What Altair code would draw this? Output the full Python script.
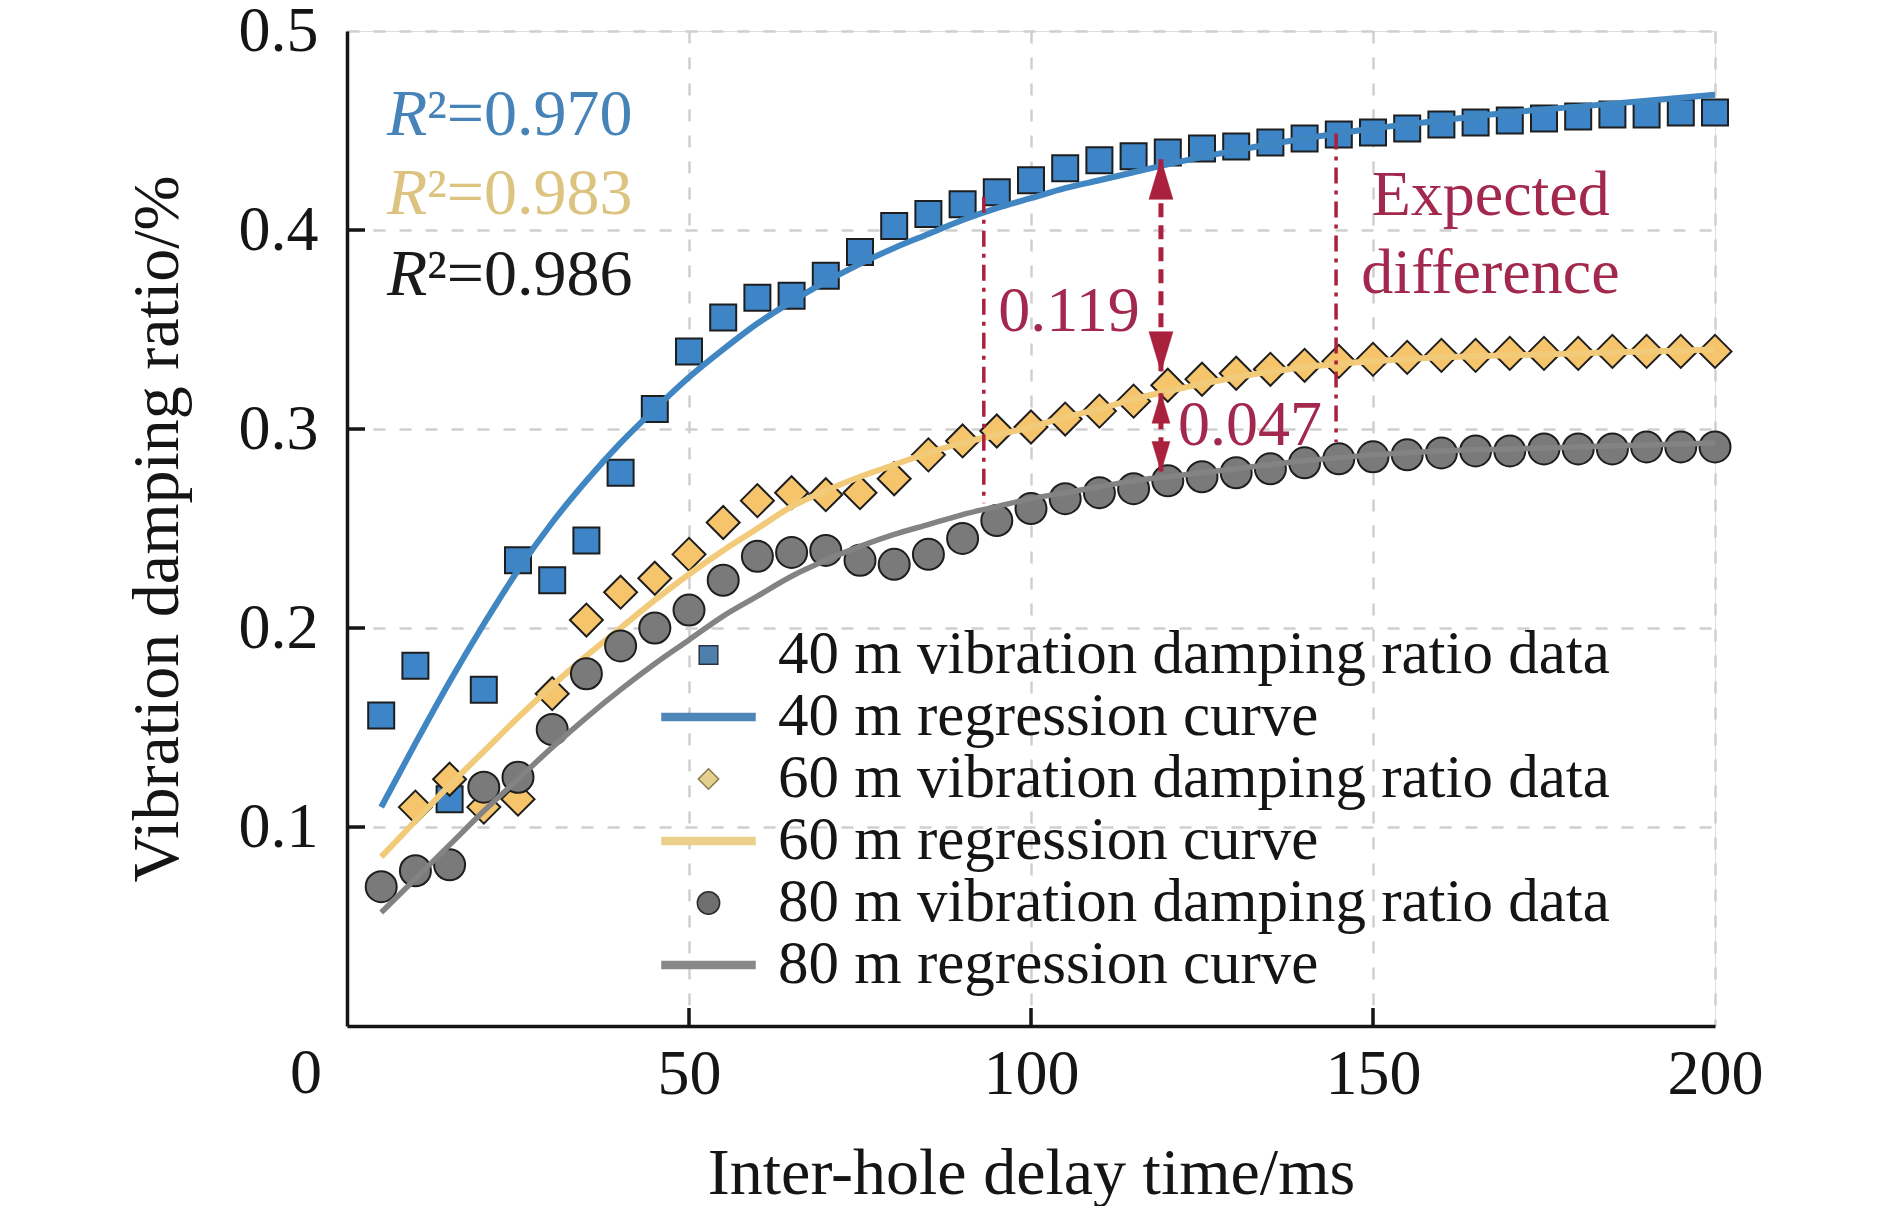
import altair as alt
import pandas as pd

# ---------------- data ----------------
delay_ms = [5, 10, 15, 20, 25, 30, 35, 40, 45, 50, 55, 60, 65, 70, 75, 80, 85, 90, 95, 100,
            105, 110, 115, 120, 125, 130, 135, 140, 145, 150, 155, 160, 165, 170, 175, 180,
            185, 190, 195, 200]

ratio_40m = [0.156, 0.181, 0.114, 0.169, 0.234, 0.224, 0.244, 0.278, 0.310, 0.339,
             0.356, 0.366, 0.367, 0.377, 0.389, 0.402, 0.408, 0.413, 0.419, 0.425,
             0.431, 0.435, 0.437, 0.439, 0.441, 0.442, 0.444, 0.446, 0.448, 0.449,
             0.451, 0.453, 0.454, 0.455, 0.456, 0.457, 0.458, 0.458, 0.459, 0.459]

delay_60m = delay_ms[1:]
ratio_60m = [0.110, 0.124, 0.110, 0.114, 0.167, 0.204, 0.218, 0.225, 0.237,
             0.253, 0.264, 0.268, 0.267, 0.268, 0.275, 0.287, 0.294, 0.299, 0.301,
             0.305, 0.309, 0.314, 0.322, 0.325, 0.328, 0.330, 0.332, 0.334, 0.335,
             0.336, 0.337, 0.337, 0.338, 0.338, 0.338, 0.339, 0.339, 0.339, 0.339]

ratio_80m = [0.070, 0.078, 0.081, 0.120, 0.125, 0.149, 0.177, 0.191, 0.200, 0.209,
             0.224, 0.236, 0.238, 0.239, 0.234, 0.232, 0.237, 0.245, 0.254, 0.260,
             0.265, 0.268, 0.270, 0.274, 0.276, 0.278, 0.280, 0.283, 0.285, 0.286,
             0.287, 0.288, 0.289, 0.289, 0.290, 0.290, 0.290, 0.291, 0.291, 0.291]

fit_ms = [5, 10, 15, 20, 25, 30, 35, 40, 45, 50, 55, 60, 65, 70, 75, 80, 85, 90, 95, 100,
          105, 110, 115, 120, 130, 140, 150, 160, 170, 180, 190, 200]
fit_40m = [0.110, 0.142, 0.173, 0.202, 0.229, 0.253, 0.274, 0.293, 0.310, 0.326,
           0.340, 0.353, 0.364, 0.374, 0.383, 0.391, 0.398, 0.405, 0.411, 0.416,
           0.421, 0.425, 0.429, 0.433, 0.440, 0.446, 0.451, 0.455, 0.459, 0.462,
           0.465, 0.468]
fit_60m = [0.085, 0.103, 0.121, 0.138, 0.155, 0.171, 0.186, 0.200, 0.214, 0.227,
           0.239, 0.250, 0.261, 0.269, 0.276, 0.282, 0.288, 0.293, 0.297, 0.301,
           0.306, 0.310, 0.315, 0.319, 0.326, 0.331, 0.334, 0.336, 0.337, 0.338,
           0.339, 0.340]
fit_80m = [0.057, 0.074, 0.091, 0.108, 0.124, 0.140, 0.155, 0.169, 0.182, 0.194,
           0.206, 0.216, 0.226, 0.234, 0.241, 0.247, 0.252, 0.257, 0.261, 0.265,
           0.268, 0.271, 0.274, 0.276, 0.280, 0.284, 0.287, 0.289, 0.290, 0.291,
           0.292, 0.293]

legend_labels = ["40 m vibration damping ratio data", "40 m regression curve",
                 "60 m vibration damping ratio data", "60 m regression curve",
                 "80 m vibration damping ratio data", "80 m regression curve"]

r2_values = ["0.970", "0.983", "0.986"]
r2_y = [0.4477, 0.408, 0.3673]
r2_x = 5.85

# annotation: expected-difference markers
guide_x = [93.1, 144.6]
guide_top = [0.4167, 0.4485]
guide_bottom = [0.2627, 0.2935]
arrow_x = 119.0
arrow_big = [0.4355, 0.3288]     # 0.119 arrow (top tip, bottom tip)
arrow_small = [0.318, 0.2786]    # 0.047 arrow (top tip, bottom tip)
note_text = ["0.119", "0.047", "Expected", "difference"]
note_x = [95.2, 121.5, 149.8, 148.3]
note_y = [0.349, 0.292, 0.4075, 0.3682]

y_tick_values = [0.1, 0.2, 0.3, 0.4]
x_tick_values = [50, 100, 150]

# ---------------- styles ----------------
FONT = "Liberation Serif"
INK = "#151515"
EDGE = "#1e1e1e"
BLUE_FILL, BLUE_LINE = "#3d85c6", "#3f86c2"
ORANGE_FILL, ORANGE_LINE = "#f6c56b", "#f2cb7a"
GREY_FILL, GREY_LINE = "#7a7a7a", "#838383"
RED_LINE = "#a9213c"
RED_TEXT = "#a3284d"
R2_COLORS = ["#4683b8", "#dcc37f", "#1a1a1a"]
GRID = "#cfcfcf"

# legend glyphs as custom paths inside the unit box (all drawn at one symbol size)
SQ = "M-0.2,-0.2L0.2,-0.2L0.2,0.2L-0.2,0.2Z"
BAR = "M-1,-0.075L1,-0.075L1,0.075L-1,0.075Z"
DIA = "M0,-0.22L0.22,0L0,0.22L-0.22,0Z"
CIR = "M-0.24,0A0.24,0.24,0,1,0,0.24,0A0.24,0.24,0,1,0,-0.24,0Z"
LEG_SHAPES = [SQ, BAR, DIA, BAR, CIR, BAR]
LEG_FILLS = ["#4f80ad", "#4e87b8", "#e4d08e", "#ead08a", "#6f6f6f", "#888888"]
LEG_STROKES = ["#2a3440", "#4e87b8", "#8a7a50", "#ead08a", "#2a2a2a", "#888888"]
LEG_SIZE = 8650

W, H = 1368, 995

x_axis = alt.Axis(values=[50, 100, 150, 200], title="Inter-hole delay time/ms",
                  grid=True, gridColor=GRID, gridDash=[12, 14], gridWidth=2.5,
                  ticks=False, tickSize=0, labelPadding=16, labelFontSize=64,
                  labelFont=FONT, labelColor=INK, labelFlush=False,
                  titleFont=FONT, titleFontSize=66, titleFontWeight="normal",
                  titleColor=INK, titleY=167, titleBaseline="alphabetic",
                  domainColor=INK, domainWidth=3.5)
y_axis = alt.Axis(values=[0.1, 0.2, 0.3, 0.4, 0.5], format=".1f",
                  title="Vibration damping ratio/%",
                  grid=True, gridColor=GRID, gridDash=[12, 14], gridWidth=2.5,
                  ticks=False, tickSize=0, labelPadding=29, labelFontSize=64,
                  labelFont=FONT, labelColor=INK, labelFlush=False,
                  titleFont=FONT, titleFontSize=66, titleFontWeight="normal",
                  titleColor=INK, titleX=-170, titleBaseline="alphabetic",
                  domainColor=INK, domainWidth=3.5)

X = alt.X("x:Q", scale=alt.Scale(domain=[0, 200], nice=False, zero=False), axis=x_axis)
Y = alt.Y("y:Q", scale=alt.Scale(domain=[0, 0.5], nice=False, zero=False), axis=y_axis)


def make_legend():
    return alt.Legend(
        title=None, orient="none", legendX=314, legendY=593.5, direction="vertical",
        columns=1, padding=0, rowPadding=0, clipHeight=61, symbolOffset=0,
        labelOffset=22, labelFont=FONT, labelFontSize=61, labelColor=INK,
        labelLimit=3000, labelBaseline="middle", symbolOpacity=1,
        symbolSize=LEG_SIZE, symbolStrokeWidth=1.5)


# invisible layer that only carries the legend
legend_df = pd.DataFrame({"series": legend_labels})
legend_layer = alt.Chart(legend_df).mark_point(filled=True, opacity=0, size=LEG_SIZE,
                                               strokeWidth=1.5).encode(
    x=alt.value(0), y=alt.value(0),
    shape=alt.Shape("series:N", scale=alt.Scale(domain=legend_labels, range=LEG_SHAPES),
                    legend=make_legend()),
    fill=alt.Fill("series:N", scale=alt.Scale(domain=legend_labels, range=LEG_FILLS),
                  legend=make_legend()),
    stroke=alt.Stroke("series:N", scale=alt.Scale(domain=legend_labels, range=LEG_STROKES),
                      legend=make_legend()),
)

df40 = pd.DataFrame({"x": delay_ms, "y": ratio_40m})
df60 = pd.DataFrame({"x": delay_60m, "y": ratio_60m})
df80 = pd.DataFrame({"x": delay_ms, "y": ratio_80m})
fit40 = pd.DataFrame({"x": fit_ms, "y": fit_40m})
fit60 = pd.DataFrame({"x": fit_ms, "y": fit_60m})
fit80 = pd.DataFrame({"x": fit_ms, "y": fit_80m})


def points(df, shape, fill, size):
    return alt.Chart(df).mark_point(shape=shape, filled=True, fill=fill, stroke=EDGE, strokeWidth=2,
                                    size=size, opacity=1).encode(x=X, y=Y)


def curve(df, color, width):
    return alt.Chart(df).mark_line(color=color, strokeWidth=width, interpolate="monotone",
                                   opacity=1).encode(x=X, y=Y)


# inward axis ticks
yticks = alt.Chart(pd.DataFrame({"y": y_tick_values})).mark_rule(
    color=INK, strokeWidth=3.5).encode(y=Y, x=alt.value(0), x2=alt.value(18))
xticks = alt.Chart(pd.DataFrame({"x": x_tick_values})).mark_rule(
    color=INK, strokeWidth=3.5).encode(x=X, y=alt.value(H), y2=alt.value(H - 18))

# shared origin label "0"
zero_label = alt.Chart(pd.DataFrame({"x": [0], "y": [0]})).mark_text(
    text="0", font=FONT, fontSize=64, color=INK, align="center", baseline="top",
    dx=-41, dy=16).encode(x=X, y=Y)

# R^2 labels
r2_layers = []
for val, yy, col in zip(r2_values, r2_y, R2_COLORS):
    d = pd.DataFrame({"x": [r2_x], "y": [yy]})
    r2_layers.append(alt.Chart(d).mark_text(text="R", font=FONT, fontSize=66, fontStyle="italic",
                                            color=col, align="left", baseline="alphabetic").encode(x=X, y=Y))
    r2_layers.append(alt.Chart(d).mark_text(text="\u00b2=" + val, font=FONT, fontSize=66,
                                            color=col, align="left", baseline="alphabetic",
                                            dx=40).encode(x=X, y=Y))

# dash-dot guide lines
guides = alt.Chart(pd.DataFrame({"x": guide_x, "y": guide_top, "y2": guide_bottom})).mark_rule(
    color=RED_LINE, strokeWidth=3.5, strokeDash=[16, 7, 4, 7]).encode(x=X, y=Y, y2="y2:Q")

# double arrows
shafts = alt.Chart(pd.DataFrame({"x": [arrow_x, arrow_x],
                                 "y": [arrow_big[0], arrow_small[0]],
                                 "y2": [arrow_big[1], arrow_small[1]]})).mark_rule(
    color=RED_LINE, strokeWidth=5, strokeDash=[14, 8]).encode(x=X, y=Y, y2="y2:Q")
UP = "M0,0L-0.3,1L0.3,1Z"
DOWN = "M0,0L-0.3,-1L0.3,-1Z"


def head(yv, shape, size):
    return alt.Chart(pd.DataFrame({"x": [arrow_x], "y": [yv]})).mark_point(
        shape=shape, filled=True, fill=RED_LINE, stroke=RED_LINE, strokeWidth=0.5,
        size=size, opacity=1).encode(x=X, y=Y)


heads = [head(arrow_big[0], UP, 6400), head(arrow_big[1], DOWN, 6400),
         head(arrow_small[0], UP, 3600), head(arrow_small[1], DOWN, 3600)]

notes = alt.Chart(pd.DataFrame({"x": note_x, "y": note_y, "t": note_text})).mark_text(
    font=FONT, fontSize=64, color=RED_TEXT, align="left", baseline="alphabetic").encode(
    x=X, y=Y, text="t:N")

chart = alt.layer(
    yticks, xticks,
    points(df40, "square", BLUE_FILL, 676), curve(fit40, BLUE_LINE, 6),
    points(df60, "diamond", ORANGE_FILL, 1089), curve(fit60, ORANGE_LINE, 6),
    points(df80, "circle", GREY_FILL, 961), curve(fit80, GREY_LINE, 5.5),
    guides, shafts, *heads,
    notes, zero_label, *r2_layers, legend_layer,
).properties(
    width=W, height=H,
    autosize=alt.AutoSizeParams(type="none"),
    padding={"left": 339, "top": 23, "right": 167, "bottom": 180},
    background="white",
).configure_view(stroke=INK, strokeWidth=3.5).configure(font=FONT)

chart.save("out.html", embed_options={"renderer": "svg", "actions": False})
